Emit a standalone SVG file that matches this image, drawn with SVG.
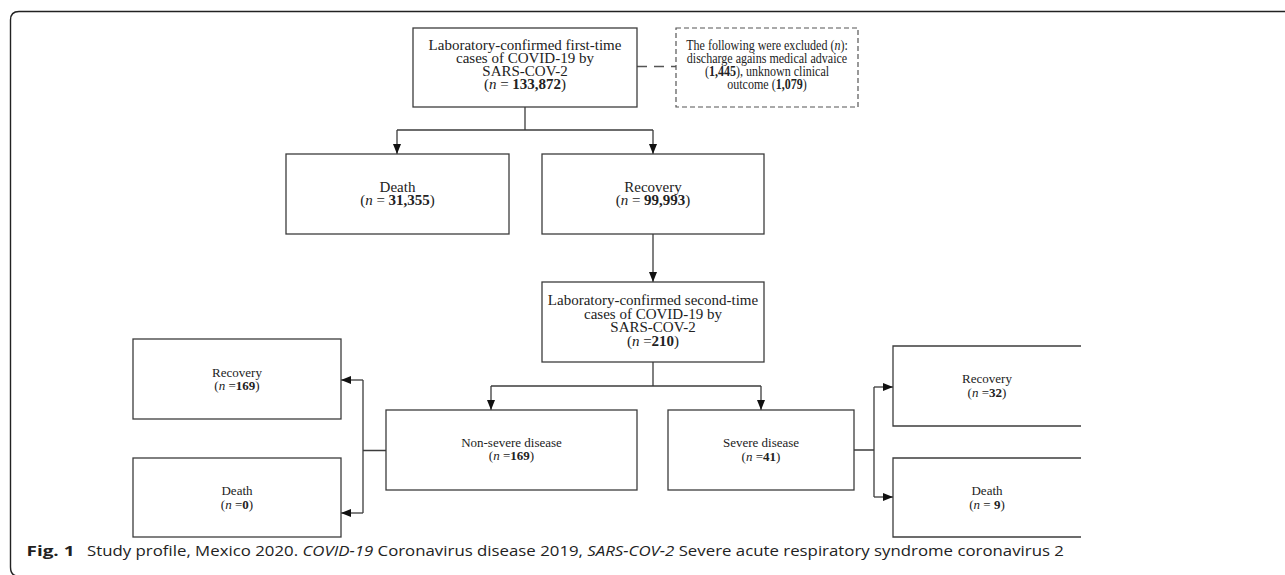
<svg xmlns="http://www.w3.org/2000/svg" width="1285" height="575" viewBox="0 0 1285 575">
<defs>
<style>
.box{fill:#fff;stroke:#3c3c3c;stroke-width:1.3}
.dash{fill:#fff;stroke:#555;stroke-width:1.2;stroke-dasharray:5 3}
.ln{fill:none;stroke:#3c3c3c;stroke-width:1.3}
.ar{fill:none;stroke:#3c3c3c;stroke-width:1.3;marker-end:url(#ah)}
.t{font-family:"Liberation Serif","Times New Roman",serif;font-size:15px;fill:#222;text-anchor:middle}
.s{font-family:"Liberation Serif","Times New Roman",serif;font-size:13px;fill:#222;text-anchor:middle}
.b{font-weight:bold}
.i{font-style:italic}
.cap{font-family:"Open Sans","Noto Sans","Liberation Sans",sans-serif;font-size:14px;fill:#222}
</style>
<marker id="ah" markerUnits="userSpaceOnUse" viewBox="0 0 10 8" refX="10" refY="4" markerWidth="10" markerHeight="8" orient="auto">
<path d="M0,0 L10,4 L0,8 z" fill="#111"/>
</marker>
</defs>
<rect width="1285" height="575" fill="#fff"/>
<path d="M1285,11.5 H19 Q10.5,11.5 10.5,20 V567 Q10.5,576 18,576" fill="none" stroke="#222" stroke-width="1.4"/>

<g id="connectors">
<path class="ln" d="M637,66.5 H676" stroke-dasharray="10 7" style="stroke:#555"/>
<path class="ln" d="M525,107 V130 M397,130 H653"/>
<path class="ar" d="M397,130 V154"/>
<path class="ar" d="M653,130 V154"/>
<path class="ar" d="M653,234 V282"/>
<path class="ln" d="M653,362 V386 M491,386 H761"/>
<path class="ar" d="M491,386 V410"/>
<path class="ar" d="M761,386 V410"/>
<path class="ln" d="M386,450.5 H363 M363,380 V513"/>
<path class="ar" d="M363,380 H341"/>
<path class="ar" d="M363,513 H341"/>
<path class="ln" d="M854,450 H874 M874,387 V497"/>
<path class="ar" d="M874,387 H893"/>
<path class="ar" d="M874,497 H893"/>
</g>

<g id="first">
<rect class="box" x="413" y="28" width="224" height="79"/>
<text class="t"><tspan x="525" y="50">Laboratory-confirmed first-time</tspan><tspan x="525" y="63">cases of COVID-19 by</tspan><tspan x="525" y="76">SARS-COV-2</tspan><tspan x="525" y="89">(<tspan class="i">n</tspan> = <tspan class="b">133,872</tspan>)</tspan></text>
</g>

<g id="excluded">
<rect class="dash" x="676" y="28" width="182" height="79"/>
<g transform="translate(767,0) scale(0.83,1)">
<text class="t" style="font-size:14.5px"><tspan x="0" y="50">The following were excluded (<tspan class="i">n</tspan>):</tspan><tspan x="0" y="63">discharge agains medical advaice</tspan><tspan x="0" y="76">(<tspan class="b">1,445</tspan>), unknown clinical</tspan><tspan x="0" y="89">outcome (<tspan class="b">1,079</tspan>)</tspan></text>
</g>
</g>

<g id="death1">
<rect class="box" x="286" y="154" width="223" height="80"/>
<text class="t"><tspan x="397.5" y="191.5">Death</tspan><tspan x="397.5" y="204.5">(<tspan class="i">n</tspan> = <tspan class="b">31,355</tspan>)</tspan></text>
</g>

<g id="recovery1">
<rect class="box" x="542" y="154" width="222" height="80"/>
<text class="t"><tspan x="653" y="191.5">Recovery</tspan><tspan x="653" y="204.5">(<tspan class="i">n</tspan> = <tspan class="b">99,993</tspan>)</tspan></text>
</g>

<g id="second">
<rect class="box" x="542" y="282" width="222" height="80"/>
<text class="t"><tspan x="653" y="305">Laboratory-confirmed second-time</tspan><tspan x="653" y="318.5">cases of COVID-19 by</tspan><tspan x="653" y="332">SARS-COV-2</tspan><tspan x="653" y="345.5">(<tspan class="i">n</tspan> =<tspan class="b">210</tspan>)</tspan></text>
</g>

<g id="nonsevere">
<rect class="box" x="386" y="410" width="251" height="80"/>
<text class="s"><tspan x="511.5" y="446.5">Non-severe disease</tspan><tspan x="511.5" y="460">(<tspan class="i">n</tspan> =<tspan class="b">169</tspan>)</tspan></text>
</g>

<g id="severe">
<rect class="box" x="668" y="410" width="186" height="80"/>
<text class="s"><tspan x="761" y="447">Severe disease</tspan><tspan x="761" y="460.5">(<tspan class="i">n</tspan> =<tspan class="b">41</tspan>)</tspan></text>
</g>

<g id="recovery2">
<rect class="box" x="133" y="339" width="208" height="80"/>
<text class="s"><tspan x="237" y="376.5">Recovery</tspan><tspan x="237" y="390">(<tspan class="i">n</tspan> =<tspan class="b">169</tspan>)</tspan></text>
</g>

<g id="death2">
<rect class="box" x="133" y="458" width="208" height="79"/>
<text class="s"><tspan x="237" y="495">Death</tspan><tspan x="237" y="508.5">(<tspan class="i">n</tspan> =<tspan class="b">0</tspan>)</tspan></text>
</g>

<g id="recovery3">
<path class="box" d="M1081,346 H893 V426 H1081"/>
<text class="s"><tspan x="987" y="383">Recovery</tspan><tspan x="987" y="396.5">(<tspan class="i">n</tspan> =<tspan class="b">32</tspan>)</tspan></text>
</g>

<g id="death3">
<path class="box" d="M1081,458 H893 V537 H1081"/>
<text class="s"><tspan x="987" y="495">Death</tspan><tspan x="987" y="509">(<tspan class="i">n</tspan> = <tspan class="b">9</tspan>)</tspan></text>
</g>

<text class="cap b" x="26.5" y="556" textLength="48" lengthAdjust="spacingAndGlyphs">Fig. 1</text>
<text class="cap" x="87" y="556" textLength="977" lengthAdjust="spacingAndGlyphs">Study profile, Mexico 2020. <tspan class="i">COVID-19</tspan> Coronavirus disease 2019, <tspan class="i">SARS-COV-2</tspan> Severe acute respiratory syndrome coronavirus 2</text>
</svg>
